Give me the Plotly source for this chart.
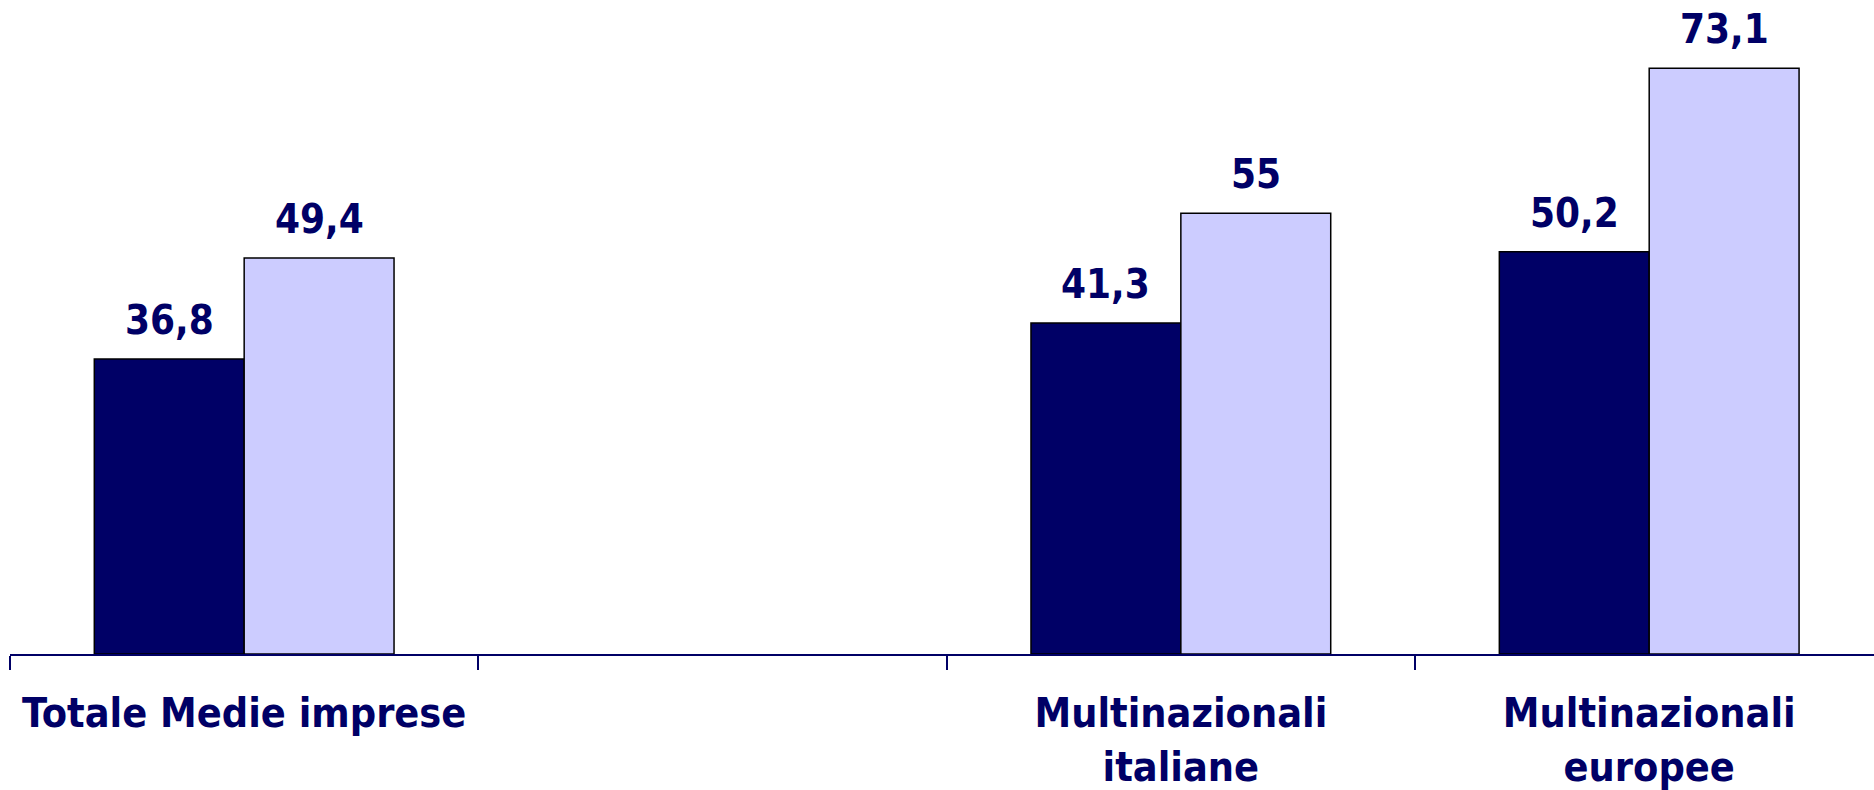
import plotly.graph_objects as go

categories = ["Totale Medie imprese", " ", "Multinazionali<br>italiane", "Multinazionali<br>europee"]
serie_a = [36.8, None, 41.3, 50.2]
serie_b = [49.4, None, 55, 73.1]

DARK = "#000066"
LIGHT = "#CCCCFF"
FONT = "DejaVu Sans Condensed, Tahoma, DejaVu Sans, sans-serif"

def fmt(v):
    if v is None:
        return ""
    if float(v).is_integer():
        return str(int(v))
    return str(v).replace(".", ",")

fig = go.Figure()
fig.add_trace(go.Bar(x=categories, y=serie_a, name="A", marker=dict(color=DARK, line=dict(color="black", width=1.5))))
fig.add_trace(go.Bar(x=categories, y=serie_b, name="B", marker=dict(color=LIGHT, line=dict(color="black", width=1.5))))

bargap = 0.36
half = (1 - bargap) / 4
for series, off in ((serie_a, -half), (serie_b, half)):
    for i, v in enumerate(series):
        if v is None:
            continue
        fig.add_annotation(x=i + off, y=v, text="<b>" + fmt(v) + "</b>", showarrow=False,
                           yanchor="bottom", yshift=14, xref="x", yref="y",
                           font=dict(family=FONT, size=40, color=DARK))

fig.update_layout(
    width=1874, height=790,
    margin=dict(l=10, r=0, t=0, b=136, autoexpand=False),
    paper_bgcolor="white", plot_bgcolor="white",
    barmode="group", bargap=bargap, bargroupgap=0,
    showlegend=False,
    font=dict(family=FONT, size=40, color=DARK),
)
fig.update_xaxes(
    type="category", range=[-0.5, 3.48], automargin=False,
    showline=True, linecolor=DARK, linewidth=2,
    ticks="outside", ticklen=14, tickcolor=DARK, tickwidth=2,
    tickson="boundaries", showgrid=False, zeroline=False,
    tickvals=categories,
    ticktext=["<b>" + c + "</b>" for c in categories],
    tickfont=dict(family=FONT, size=41, color=DARK),
    ticklabelstandoff=22,
)
fig.update_yaxes(range=[0, 81.6], visible=False, showgrid=False, zeroline=False, automargin=False)

fig.write_html("out.html", config={"displayModeBar": False},
               post_script="document.body.style.margin='0';document.body.style.overflow='hidden';")
